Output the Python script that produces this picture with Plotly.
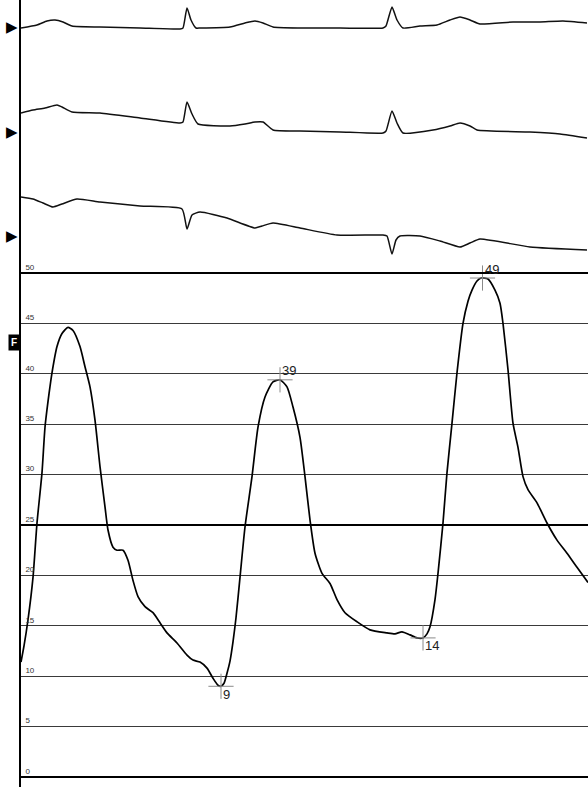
import plotly.graph_objects as go

# ---------------- data ----------------
# Pressure waveform (time in ms, pressure in mmHg)
p_time = [0, 12, 28, 48, 64, 84, 96, 112, 124, 144, 164, 188, 208, 236, 256, 276, 296, 316,
          336, 348, 368, 384, 408, 428, 448, 468, 496, 528, 556, 584, 624, 664, 688, 716,
          744, 768, 788, 800, 812, 824, 836, 848, 860, 876, 896, 924, 948, 976, 1008, 1036,
          1064, 1088, 1116, 1136, 1156, 1176, 1204, 1236, 1264, 1296, 1344, 1396, 1464,
          1496, 1524, 1556, 1584, 1608, 1624, 1636, 1656, 1668, 1688, 1704, 1724, 1744,
          1768, 1788, 1804, 1824, 1840, 1868, 1896, 1916, 1928, 1948, 1968, 1988, 2008,
          2028, 2064, 2104, 2144, 2184, 2224, 2268]
p_value = [11.4, 13.0, 15.6, 19.8, 25.2, 30.2, 34.7, 38.0, 40.1, 42.7, 44.0, 44.6, 44.3,
           42.7, 40.7, 38.7, 35.4, 30.8, 26.8, 24.5, 22.8, 22.5, 22.5, 21.5, 19.5, 17.9,
           16.9, 16.3, 15.3, 14.3, 13.3, 12.1, 11.6, 11.4, 10.8, 9.8, 9.1, 9.0, 9.3, 10.3,
           11.5, 13.4, 15.8, 19.8, 24.8, 29.8, 34.7, 37.7, 39.2, 39.4, 38.7, 36.7, 33.7,
           29.8, 25.5, 22.2, 20.2, 19.2, 17.6, 16.3, 15.4, 14.6, 14.3, 14.2, 14.4, 14.1,
           13.8, 13.8, 14.2, 14.9, 17.6, 20.2, 25.2, 30.2, 35.1, 40.1, 45.0, 47.2, 48.3,
           49.2, 49.5, 49.4, 48.3, 47.0, 45.0, 40.4, 35.1, 32.7, 29.8, 28.5, 27.2, 25.2,
           23.5, 22.2, 20.8, 19.3]

# Extremum markers
mark_time = [800, 1036, 1608, 1846]
mark_value = [9.0, 39.4, 13.8, 49.5]
mark_label = ["9", "39", "14", "49"]
mark_above = [False, True, False, True]

# ECG leads (time ms, amplitude mV)
e1_time = [0, 64, 104, 136, 168, 204, 316, 476, 636, 648, 664, 680, 700, 716, 836, 896,
           936, 968, 1008, 1116, 1276, 1448, 1460, 1484, 1504, 1528, 1596, 1664, 1716,
           1756, 1796, 1836, 1968, 2076, 2168, 2264]
e1_amp = [0, 0.15, 0.35, 0.4, 0.3, 0.1, 0.05, 0, -0.05, 0, 1.0, 0.4, 0, 0, 0.05, 0.25,
          0.35, 0.25, 0.05, 0, 0, 0, 0.1, 1.05, 0.4, 0, 0.1, 0.15, 0.4, 0.55, 0.4, 0.2,
          0.3, 0.3, 0.35, 0.25]

e2_time = [0, 48, 96, 144, 164, 204, 316, 476, 636, 648, 664, 684, 708, 836, 896, 936,
           968, 1008, 1116, 1276, 1448, 1460, 1484, 1504, 1528, 1648, 1716, 1756, 1796,
           1824, 2036, 2156, 2264]
e2_amp = [0.6, 0.75, 0.85, 1.0, 0.9, 0.65, 0.6, 0.35, 0.1, 0.15, 1.15, 0.55, 0.05, -0.05,
          0.05, 0.15, 0.15, -0.25, -0.3, -0.35, -0.4, -0.3, 0.7, 0.1, -0.4, -0.25, -0.05,
          0.1, -0.05, -0.25, -0.35, -0.45, -0.65]

e3_time = [0, 48, 88, 128, 164, 224, 316, 476, 644, 664, 684, 716, 824, 936, 964, 1008,
           1116, 1264, 1448, 1464, 1484, 1500, 1516, 1596, 1676, 1756, 1796, 1836, 2036,
           2264]
e3_amp = [1.4, 1.3, 1.1, 0.9, 1.05, 1.3, 1.15, 0.95, 0.8, -0.2, 0.5, 0.65, 0.35, -0.15,
          -0.05, 0.1, -0.15, -0.5, -0.5, -0.55, -1.45, -0.75, -0.55, -0.55, -0.8, -1.1,
          -0.9, -0.7, -1.1, -1.25]

pressure_ticks = [0, 5, 10, 15, 20, 25, 30, 35, 40, 45, 50]

# ---------------- layout constants ----------------
lane_offset = [-1.4, -6.25, -11.25]   # lead lane positions on the ECG axis
lane_marker = [-1.35, -6.6, -11.8]

fig = go.Figure()

ecg_line = dict(color="#111111", width=1.5)
for t, a, off in [(e1_time, e1_amp, lane_offset[0]),
                  (e2_time, e2_amp, lane_offset[1]),
                  (e3_time, e3_amp, lane_offset[2])]:
    fig.add_trace(go.Scatter(x=t, y=[off + v for v in a], mode="lines",
                             line=dict(shape="spline", smoothing=0.5, **ecg_line),
                             yaxis="y2", hoverinfo="skip", showlegend=False))

# pressure waveform
fig.add_trace(go.Scatter(x=p_time, y=p_value, mode="lines",
                         line=dict(color="black", width=1.7, shape="spline", smoothing=0.6),
                         showlegend=False, hoverinfo="skip"))

# extremum crosshairs
fig.add_trace(go.Scatter(x=mark_time, y=mark_value, mode="markers",
                         marker=dict(symbol="cross-thin", size=18,
                                     line=dict(color="#8a8a8a", width=1)),
                         showlegend=False, hoverinfo="skip"))

annotations = []
for t, v, lab, up in zip(mark_time, mark_value, mark_label, mark_above):
    annotations.append(dict(x=t, y=v, xref="x", yref="y", text=lab, showarrow=False,
                            xanchor="left", yanchor="middle", xshift=0,
                            yshift=9 if up else -8,
                            font=dict(family="Arial, Liberation Sans", size=13, color="#222222")))
annotations.append(dict(x=-0.002, y=43.1, xref="paper", yref="y", text="<b>F</b>",
                        showarrow=False, bgcolor="black", borderpad=2, xanchor="right",
                        font=dict(family="Arial, Liberation Sans", size=10, color="white")))
for ym in lane_marker:
    annotations.append(dict(x=-0.001, y=ym, xref="paper", yref="y2", text="▶",
                            showarrow=False, xanchor="right",
                            font=dict(family="DejaVu Sans", size=15, color="black")))

shapes = []
for lv in [0, 25, 50]:
    shapes.append(dict(type="line", xref="x domain", x0=0, x1=1, yref="y", y0=lv, y1=lv,
                       line=dict(color="black", width=2)))

fig.update_layout(
    width=588, height=787,
    margin=dict(l=21, r=0, t=0, b=0),
    paper_bgcolor="white", plot_bgcolor="white",
    xaxis=dict(range=[0, 2268], showgrid=False, zeroline=False, showticklabels=False,
               showline=False, ticks=""),
    yaxis=dict(range=[-0.99, 77.08], tickvals=pressure_ticks,
               ticktext=[str(v) for v in pressure_ticks],
               showgrid=True, gridcolor="#3a3a3a", gridwidth=1, zeroline=False,
               showline=True, linecolor="black", linewidth=2,
               ticks="", ticklabelposition="inside", ticklabelshift=-6, ticklabelstandoff=3,
               tickfont=dict(family="Arial, Liberation Sans", size=8, color="#333333")),
    yaxis2=dict(range=[-39.35, 0], overlaying="y", visible=False),
    annotations=annotations,
    shapes=shapes,
)

fig.write_html("out.html", config={"displayModeBar": False},
               post_script="document.body.style.margin='0px';document.body.style.padding='0px';")
